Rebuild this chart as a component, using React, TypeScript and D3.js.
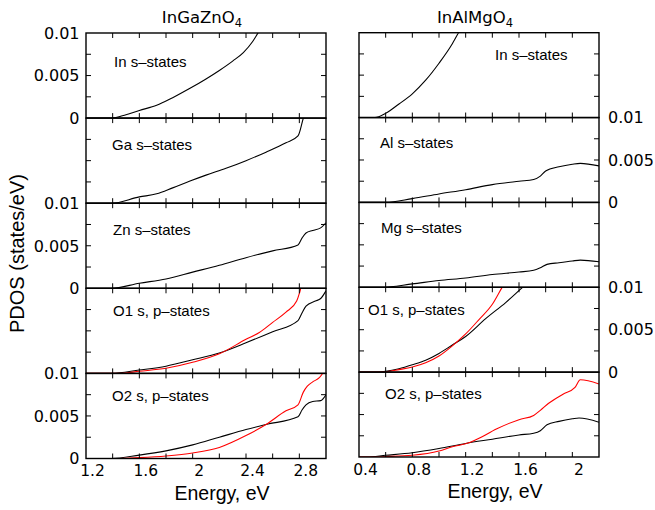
import React from 'react';
import * as d3 from 'd3';

type Pt = [number, number];

// InGaZnO4 column (energy in eV, PDOS in states/eV)
const igzoIn: Pt[] = [[1.2, 0], [1.39, 0], [1.5, 0.0004], [1.6, 0.0009], [1.73, 0.0015], [1.85, 0.0024], [1.98, 0.0035], [2.1, 0.0046], [2.2, 0.0056], [2.3, 0.0067], [2.38, 0.0077], [2.45, 0.009], [2.49, 0.01], [2.6, 0.0125]];
const igzoGa: Pt[] = [[1.2, 0], [1.39, 0], [1.6, 0.00074], [1.73, 0.0011], [1.85, 0.0018], [1.98, 0.0026], [2.1, 0.0033], [2.25, 0.0041], [2.4, 0.005], [2.55, 0.006], [2.7, 0.0071], [2.79, 0.0079], [2.83, 0.01], [2.86, 0.0115]];
const igzoZn: Pt[] = [[1.2, 0], [1.39, 0], [1.6, 0.0006], [1.8, 0.0011], [2.0, 0.0019], [2.2, 0.0027], [2.4, 0.0036], [2.6, 0.0044], [2.79, 0.0051], [2.82, 0.0059], [2.85, 0.0065], [2.9, 0.0068], [2.96, 0.0071], [3.0, 0.0077]];
const igzoO1Black: Pt[] = [[1.2, 0], [1.39, 0], [1.6, 0.0004], [1.8, 0.00085], [2.0, 0.0016], [2.2, 0.0024], [2.4, 0.0036], [2.6, 0.0049], [2.79, 0.0062], [2.82, 0.0071], [2.85, 0.0079], [2.92, 0.0085], [2.96, 0.0088], [3.0, 0.0097]];
const igzoO1Red: Pt[] = [[1.2, 0], [1.45, 0], [1.6, 0.00025], [1.8, 0.0006], [2.0, 0.0013], [2.2, 0.0023], [2.4, 0.004], [2.5, 0.0048], [2.6, 0.006], [2.7, 0.0072], [2.78, 0.0085], [2.8, 0.0094], [2.81, 0.01], [2.82, 0.012]];
const igzoO2Black: Pt[] = [[1.2, 0], [1.39, 0], [1.6, 0.0004], [1.8, 0.0009], [2.0, 0.0016], [2.2, 0.0025], [2.4, 0.0034], [2.55, 0.004], [2.79, 0.0049], [2.82, 0.0057], [2.85, 0.0063], [2.9, 0.0067], [2.96, 0.0068], [3.0, 0.0075]];
const igzoO2Red: Pt[] = [[1.2, 0], [1.45, 0], [1.6, 0.0001], [1.8, 0.0003], [2.0, 0.00065], [2.2, 0.0013], [2.4, 0.0027], [2.55, 0.004], [2.7, 0.0056], [2.79, 0.0063], [2.83, 0.0078], [2.86, 0.0085], [2.9, 0.009], [2.95, 0.0095], [3.0, 0.0106]];

// InAlMgO4 column
const iamoIn: Pt[] = [[0.4, 0], [0.52, 0], [0.6, 0.0005], [0.7, 0.0016], [0.8, 0.0028], [0.9, 0.0044], [1.0, 0.0064], [1.1, 0.0087], [1.15, 0.0101], [1.25, 0.013]];
const iamoAl: Pt[] = [[0.4, 0], [0.6, 0], [0.8, 0.00045], [1.0, 0.001], [1.2, 0.0015], [1.4, 0.0021], [1.6, 0.0025], [1.71, 0.0027], [1.76, 0.0031], [1.8, 0.0037], [1.9, 0.0042], [2.0, 0.0045], [2.06, 0.0046], [2.2, 0.0043]];
const iamoMg: Pt[] = [[0.4, 0], [0.57, 0], [0.8, 0.0004], [1.0, 0.0008], [1.2, 0.0011], [1.4, 0.0015], [1.6, 0.0018], [1.71, 0.002], [1.76, 0.0023], [1.81, 0.0027], [1.9, 0.0029], [2.0, 0.0031], [2.06, 0.0032], [2.2, 0.003]];
const iamoO1Black: Pt[] = [[0.4, 0], [0.5, 0], [0.6, 0.0001], [0.7, 0.0004], [0.8, 0.00086], [0.9, 0.0014], [1.0, 0.0022], [1.1, 0.0032], [1.2, 0.0042], [1.35, 0.0063], [1.5, 0.0082], [1.62, 0.0099], [1.72, 0.0113]];
const iamoO1Red: Pt[] = [[0.4, 0], [0.5, 0], [0.6, 0.00005], [0.7, 0.0003], [0.8, 0.0006], [0.9, 0.0011], [1.0, 0.0019], [1.1, 0.0031], [1.2, 0.0045], [1.3, 0.0062], [1.4, 0.008], [1.47, 0.0099], [1.52, 0.0112]];
const iamoO2Black: Pt[] = [[0.4, 0], [0.46, 0], [0.6, 0.0002], [0.8, 0.0005], [1.0, 0.001], [1.2, 0.0016], [1.4, 0.0021], [1.6, 0.0026], [1.71, 0.0028], [1.76, 0.0031], [1.81, 0.0038], [1.9, 0.0042], [2.0, 0.0045], [2.05, 0.0046], [2.2, 0.0041]];
const iamoO2Red: Pt[] = [[0.4, 0], [0.5, 0], [0.6, 0.00005], [0.8, 0.0002], [1.0, 0.0007], [1.1, 0.0012], [1.23, 0.0017], [1.3, 0.0022], [1.43, 0.0033], [1.6, 0.0044], [1.71, 0.0049], [1.76, 0.0055], [1.82, 0.0063], [1.93, 0.0074], [2.02, 0.0082], [2.06, 0.0091], [2.2, 0.0086]];

const leftLabels = ['In s–states', 'Ga s–states', 'Zn s–states', 'O1 s, p–states', 'O2 s, p–states'];
const rightLabels = ['In s–states', 'Al s–states', 'Mg s–states', 'O1 s, p–states', 'O2 s, p–states'];
const leftSeries: Pt[][][] = [[igzoIn], [igzoGa], [igzoZn], [igzoO1Black, igzoO1Red], [igzoO2Black, igzoO2Red]];
const rightSeries: Pt[][][] = [[iamoIn], [iamoAl], [iamoMg], [iamoO1Black, iamoO1Red], [iamoO2Black, iamoO2Red]];
const seriesColors = ['#000000', '#ff0000'];

const leftXTicks = [1.2, 1.6, 2, 2.4, 2.8];
const rightXTicks = [0.4, 0.8, 1.2, 1.6, 2];
const yTickLabels = [0, 0.005, 0.01];

const tickFont = '"DejaVu Sans", sans-serif';
const textFont = '"Liberation Sans", Arial, sans-serif';

interface ColumnProps {
  id: string;
  left: number;
  top: number;
  bottom: number;
  xDomain: [number, number];
  xLabels: number[];
  labels: string[];
  series: Pt[][][];
  labelSide: 'left' | 'right';
  labelledPanels: number[];
  labelX: number[];
  labelDy: number[];
  title: string;
}

const W = 240;

function Column(p: ColumnProps) {
  const h = (p.bottom - p.top) / 5;
  const x = d3.scaleLinear().domain(p.xDomain).range([p.left, p.left + W]);
  const minor = d3.range(Math.round(p.xDomain[0] * 5), Math.round(p.xDomain[1] * 5) + 1).map(v => v / 5);
  const yMinor = [0.0025, 0.005, 0.0075];
  const right = p.left + W;

  return (
    <g>
      {p.series.map((lines, i) => {
        const top = p.top + i * h;
        const y = d3.scaleLinear().domain([0, 0.01]).range([top + h, top]);
        const line = d3.line<Pt>().x(d => x(d[0])).y(d => y(d[1])).curve(d3.curveMonotoneX);
        const clipId = `${p.id}-clip-${i}`;
        return (
          <g key={i}>
            <clipPath id={clipId}>
              <rect x={p.left} y={top} width={W} height={h} />
            </clipPath>
            <g clipPath={`url(#${clipId})`}>
              {lines.map((s, j) => (
                <path key={j} d={line(s) || ''} fill="none" stroke={seriesColors[j]} strokeWidth={1.1} />
              ))}
            </g>
            {/* x ticks, inward at top and bottom */}
            {minor.slice(1, -1).map(v => (
              <g key={v} stroke="#000" strokeWidth={1}>
                <line x1={x(v)} x2={x(v)} y1={top} y2={top + 5} />
                <line x1={x(v)} x2={x(v)} y1={top + h} y2={top + h - 5} />
              </g>
            ))}
            {/* y ticks, inward at both sides */}
            {yMinor.map(v => (
              <g key={v} stroke="#000" strokeWidth={1}>
                <line x1={p.left} x2={p.left + 5} y1={y(v)} y2={y(v)} />
                <line x1={right} x2={right - 5} y1={y(v)} y2={y(v)} />
              </g>
            ))}
            <rect x={p.left} y={top} width={W} height={h} fill="none" stroke="#000" strokeWidth={1.4} />
            <text x={p.labelX[i]} y={top + p.labelDy[i]} fontFamily={textFont} fontSize={15} fill="#000">
              {p.labels[i]}
            </text>
            {p.labelledPanels.includes(i) && yTickLabels.map(v => (
              <text
                key={v}
                x={p.labelSide === 'left' ? p.left - 6.5 : right + 9}
                y={y(v)}
                dy="0.36em"
                textAnchor={p.labelSide === 'left' ? 'end' : 'start'}
                fontFamily={tickFont}
                fontSize={16}
                fill="#000"
              >
                {String(v)}
              </text>
            ))}
          </g>
        );
      })}
      {p.xLabels.map(v => (
        <text key={v} x={x(v) + 6.5} y={p.bottom + 17.5} textAnchor="middle" fontFamily={tickFont} fontSize={15.5} fill="#000">
          {String(v)}
        </text>
      ))}
      <text x={p.left + W / 2 + 16} y={p.bottom + 41} textAnchor="middle" fontFamily={textFont} fontSize={19.5} fill="#000">
        Energy, eV
      </text>
      <text x={p.left + W / 2 - 4} y={23} textAnchor="middle" fontFamily={tickFont} fontSize={16.5} fill="#000">
        <tspan>{p.title}</tspan>
        <tspan dy={4} fontSize={11.5}>4</tspan>
      </text>
    </g>
  );
}

export default function App() {
  return (
    <svg width={655} height={510} style={{ display: 'block', position: 'absolute', left: 0, top: 0, background: '#fff' }}>
      <rect x={0} y={0} width={655} height={510} fill="#fff" />
      <text
        transform="translate(24,253.5) rotate(-90)"
        textAnchor="middle"
        fontFamily={textFont}
        fontSize={20}
        fill="#000"
      >
        PDOS (states/eV)
      </text>
      <Column
        id="igzo"
        left={86}
        top={33}
        bottom={458.5}
        xDomain={[1.2, 3.0]}
        xLabels={leftXTicks}
        labels={leftLabels}
        series={leftSeries}
        labelSide="left"
        labelledPanels={[0, 2, 4]}
        labelX={[114, 112, 113, 113, 112]}
        labelDy={[34, 31.5, 31.5, 28, 28]}
        title="InGaZnO"
      />
      <Column
        id="iamo"
        left={359}
        top={32.7}
        bottom={457}
        xDomain={[0.4, 2.2]}
        xLabels={rightXTicks}
        labels={rightLabels}
        series={rightSeries}
        labelSide="right"
        labelledPanels={[1, 3]}
        labelX={[495, 380, 381, 368, 385]}
        labelDy={[27.5, 30.5, 31, 28, 27]}
        title="InAlMgO"
      />
    </svg>
  );
}
